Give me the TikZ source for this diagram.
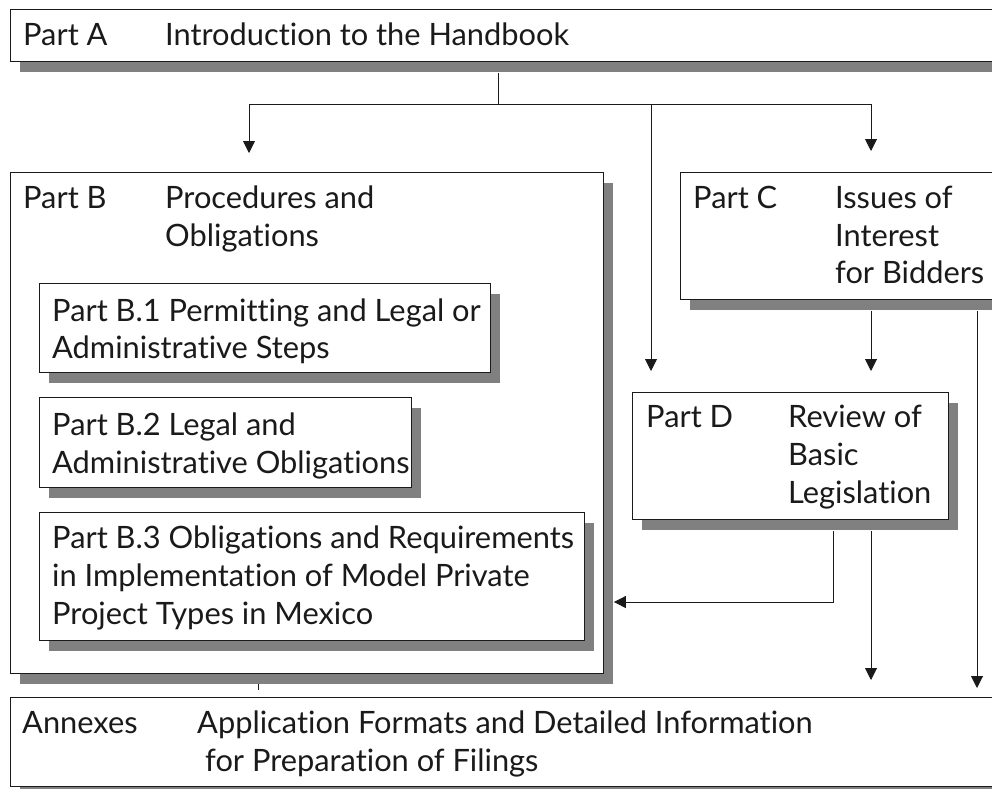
\documentclass[tikz,border=0pt]{standalone}
\usepackage{fontspec}
\setmainfont{Lato}[Ligatures={NoCommon}]
\usetikzlibrary{arrows.meta,shadows}
\definecolor{shd}{HTML}{808080}
\definecolor{ink}{HTML}{1A1A1A}
\begin{document}
\begin{tikzpicture}[x=1pt,y=-1pt,
  box/.style={draw=ink, line width=0.9pt, fill=white, rectangle, inner sep=0pt, anchor=north west,
    drop shadow={shadow xshift=10pt, shadow yshift=-11pt, fill=shd, opacity=1}},
  lbl/.style={anchor=base west, inner sep=0pt, text=ink, font=\fontsize{30.8}{36}\selectfont},
  conn/.style={draw=ink, line width=0.9pt},
  arr/.style={conn, -{Triangle[width=12pt,length=12pt]}}]
\clip (0,0) rectangle (992,788);
\fill[white] (0,0) rectangle (992,788);
% boxes
\node[box, minimum width=1000pt, minimum height=52pt] (A) at (10,9) {};
\node[box, minimum width=593pt, minimum height=501pt] (B) at (10,172) {};
\node[box, minimum width=451pt, minimum height=89pt] (B1) at (39,283) {};
\node[box, minimum width=372pt, minimum height=90pt] (B2) at (39,397) {};
\node[box, minimum width=545pt, minimum height=128pt] (B3) at (39,512) {};
\node[box, minimum width=330pt, minimum height=127pt] (C) at (680,172) {};
\node[box, minimum width=316pt, minimum height=127pt] (D) at (632,392) {};
\node[box, minimum width=1000pt, minimum height=89pt] (N) at (10,697) {};
% texts
\node[lbl] (tA1) at (23,45) {Part A};
\node[lbl] (tA2) at (165,45) {Introduction to the Handbook};
\node[lbl] (tB1) at (23,208) {Part B};
\node[lbl] (tB2) at (165,208) {Procedures and};
\node[lbl] (tB3) at (165,246) {Obligations};
\node[lbl] (tB11) at (52,321) {Part B.1 Permitting and Legal or};
\node[lbl] (tB12) at (52,358) {Administrative Steps};
\node[lbl] (tB21) at (52,435) {Part B.2 Legal and};
\node[lbl] (tB22) at (52,473) {Administrative Obligations};
\node[lbl] (tB31) at (52,548) {Part B.3 Obligations and Requirements};
\node[lbl] (tB32) at (52,586) {in Implementation of Model Private};
\node[lbl] (tB33) at (52,624) {Project Types in Mexico};
\node[lbl] (tC1) at (693,208) {Part C};
\node[lbl] (tC2) at (835,208) {Issues of};
\node[lbl] (tC3) at (835,246) {Interest};
\node[lbl] (tC4) at (835,283) {for Bidders};
\node[lbl] (tD1) at (646,427) {Part D};
\node[lbl] (tD2) at (788,427) {Review of};
\node[lbl] (tD3) at (788,465) {Basic};
\node[lbl] (tD4) at (788,503) {Legislation};
\node[lbl] (tN1) at (22,733) {Annexes};
\node[lbl] (tN2) at (197,733) {Application Formats and Detailed Information};
\node[lbl] (tN3) at (205,771) {for Preparation of Filings};
% connectors
\coordinate (j0) at (498,104);
\coordinate (jl) at (249,104);
\coordinate (jm) at (651,104);
\coordinate (jr) at (871,104);
\coordinate (xr) at (977,104);
\coordinate (xd) at (833,602);
\coordinate (tk) at (258,690);
\draw[conn] ([yshift=-11pt]A.south -| j0) -- (j0);
\draw[conn] (jl) -- (jr);
\draw[arr] (jl) -- ([yshift=19pt]B.north -| jl);
\draw[arr] (jr) -- ([yshift=21pt]C.north -| jr);
\draw[arr] (jm) -- ([yshift=21pt]D.north -| jm);
\draw[arr] ([yshift=-11pt]C.south -| jr) -- ([yshift=21pt]D.north -| jr);
\draw[arr] ([yshift=-11pt]C.south -| xr) -- ([yshift=9pt]N.north -| xr);
\draw[arr] ([yshift=-11pt]D.south -| jr) -- ([yshift=17pt]N.north -| jr);
\draw[arr] ([yshift=-11pt]D.south -| xd) -- (xd) -- ([xshift=10pt]B.east |- xd);
\draw[conn, line width=0.6pt] (tk) -- ++(0,-6);
\end{tikzpicture}
\end{document}
